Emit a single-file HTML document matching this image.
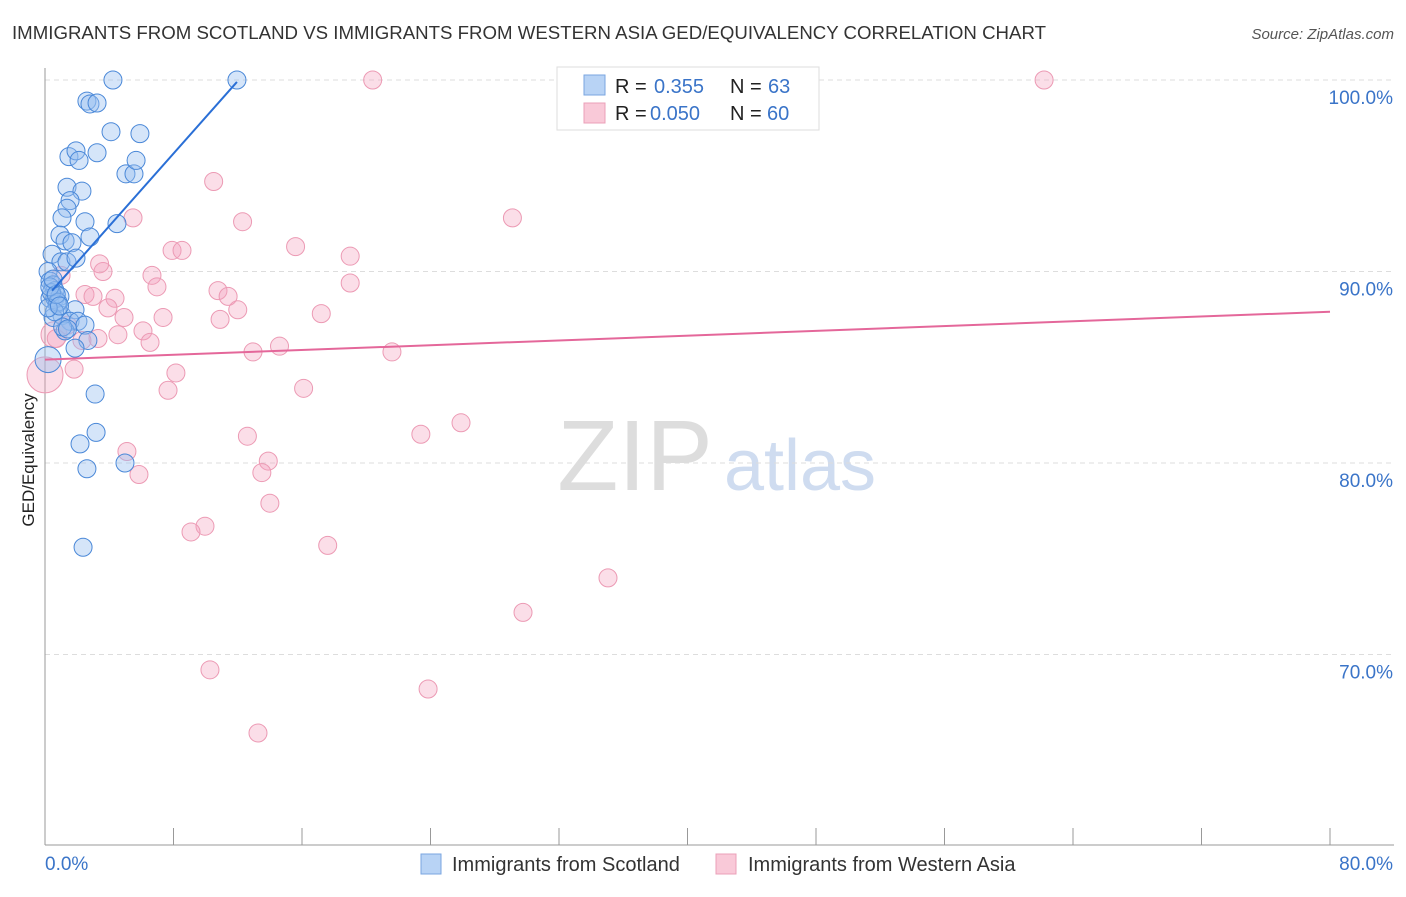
<!DOCTYPE html>
<html><head><meta charset="utf-8"><style>
body{margin:0;background:#fff;font-family:"Liberation Sans",sans-serif;}
svg text{font-family:"Liberation Sans",sans-serif;}
</style></head><body>
<svg id="chart" width="1406" height="892" xmlns="http://www.w3.org/2000/svg">
<text x="12" y="39" font-size="18" fill="#333" textLength="1034" lengthAdjust="spacingAndGlyphs">IMMIGRANTS FROM SCOTLAND VS IMMIGRANTS FROM WESTERN ASIA GED/EQUIVALENCY CORRELATION CHART</text>
<text x="1394" y="39" font-size="15" fill="#555" text-anchor="end" font-style="italic">Source: ZipAtlas.com</text>
<text x="34" y="460" font-size="17" fill="#222" text-anchor="middle" transform="rotate(-90 34 460)">GED/Equivalency</text>
<g><text x="635" y="490" font-size="100" fill="#ddd" font-family="Liberation Serif" text-anchor="middle">ZIP</text><text x="800" y="490" font-size="72" fill="#cfdcf0" text-anchor="middle">atlas</text></g>
<g id="grid"></g><g id="axes"></g><g id="pts"></g><g id="lines"></g>
<g>
<rect x="557" y="67" width="262" height="63" fill="#fff" stroke="#ddd"/>
<rect x="584" y="75" width="21" height="20" fill="#b8d3f5" stroke="#7aa6e0"/>
<rect x="584" y="103" width="21" height="20" fill="#f9c9d8" stroke="#eba0b8"/>
<text x="615" y="93" font-size="20" fill="#222">R =</text><text x="654" y="93" font-size="20" fill="#3a74c8">0.355</text>
<text x="730" y="93" font-size="20" fill="#222">N =</text><text x="768" y="93" font-size="20" fill="#3a74c8">63</text>
<text x="615" y="120" font-size="20" fill="#222">R =</text><text x="650" y="120" font-size="20" fill="#3a74c8">0.050</text>
<text x="730" y="120" font-size="20" fill="#222">N =</text><text x="767" y="120" font-size="20" fill="#3a74c8">60</text>
</g>
<g>
<rect x="421" y="854" width="20" height="20" fill="#b8d3f5" stroke="#7aa6e0"/>
<text x="452" y="871" font-size="20" fill="#333">Immigrants from Scotland</text>
<rect x="716" y="854" width="20" height="20" fill="#f9c9d8" stroke="#eba0b8"/>
<text x="748" y="871" font-size="20" fill="#333">Immigrants from Western Asia</text>
</g>
</svg>
<script>
const blueX=[4.23,11.95,2.61,2.8,3.24,4.11,5.91,1.49,1.93,2.12,3.24,5.04,5.54,5.67,1.37,2.3,1.56,1.37,1.06,2.49,4.48,0.93,1.25,2.8,1.68,0.44,0.99,1.37,1.93,0.19,0.31,0.5,0.62,0.31,0.62,0.93,0.75,1.06,1.87,0.5,1.56,2.05,2.49,1.25,2.67,1.87,0.19,3.12,3.18,2.18,2.61,4.98,2.37,0.4,0.8,0.3,1.1,0.6,0.2,1.4,0.7,0.9,0.5];
const blueY=[100,100,98.9,98.75,98.8,97.3,97.2,96,96.3,95.8,96.2,95.1,95.1,95.8,94.4,94.2,93.7,93.3,92.8,92.6,92.5,91.9,91.6,91.8,91.5,90.9,90.5,90.5,90.7,90,89.5,89.3,89,88.6,88.6,88.7,88.3,87.7,88,87.6,87.4,87.4,87.2,86.9,86.4,86,85.4,83.6,81.6,81,79.7,80,75.6,88.9,88.4,89.2,87.1,87.9,88.1,87,88.8,88.2,89.6];
const pinkX=[5.48,10.5,12.3,7.91,8.53,3.61,6.66,6.97,10.77,11.4,2.49,2.99,4.36,3.92,4.92,7.35,12,10.9,6.1,4.54,3.3,6.54,0.56,0.7,1.81,0,8.15,7.66,15.6,19,19,17.2,12.95,14.6,21.6,16.1,20.4,42.2,62.2,29.1,25.9,23.4,12.6,13.9,13.5,5.1,5.85,14,9.96,9.09,17.6,35.05,29.76,10.27,23.85,13.26,1.4,3.4,1.0,2.3];
const pinkY=[92.8,94.7,92.6,91.1,91.1,90,89.8,89.2,89,88.7,88.8,88.7,88.6,88.1,87.6,87.6,88,87.5,86.9,86.7,86.5,86.3,86.7,86.5,84.9,84.6,84.7,83.8,91.3,90.8,89.4,87.8,85.8,86.1,85.8,83.9,100,100,100,92.8,82.1,81.5,81.4,80.1,79.5,80.6,79.4,77.9,76.7,76.4,75.7,74,72.2,69.2,68.2,65.9,87.2,90.4,89.8,86.4];
const pinkR=[9,9,9,9,9,9,9,9,9,9,9,9,9,9,9,9,9,9,9,9,9,9,13,9,9,18,9,9,9,9,9,9,9,9,9,9,9,9,9,9,9,9,9,9,9,9,9,9,9,9,9,9,9,9,9,9,9,9,9,9];
const yTicks=[100,90,80,70];
const blueTrend=[[0.44,89.0],[11.95,99.9]];
const pinkTrend=[[0,85.4],[80,87.9]];
const NS="http://www.w3.org/2000/svg";
const sx=v=>45+v*1285/80, sy=v=>80+(100-v)*19.15;
function mk(t,a,p){const e=document.createElementNS(NS,t);for(const k in a)e.setAttribute(k,a[k]);p.appendChild(e);return e;}
const grid=document.getElementById('grid'),axes=document.getElementById('axes'),pts=document.getElementById('pts'),lines=document.getElementById('lines');
yTicks.forEach(t=>{
 const l=mk('line',{x1:45,x2:1394,y1:sy(t),y2:sy(t),stroke:'#ddd','stroke-dasharray':'5,4'},grid);
 
 
 const tx=mk('text',{x:1393,y:sy(t)+24,'font-size':19,fill:'#3a74c8','text-anchor':'end'},axes);
 tx.textContent=t.toFixed(1)+'%';
 
 
});
mk('line',{x1:45,x2:45,y1:68,y2:845,stroke:'#999'},axes);
mk('line',{x1:45,x2:1394,y1:845,y2:845,stroke:'#999'},axes);
for(let i=0;i<=10;i++){const x=45+i*128.5;mk('line',{x1:x,x2:x,y1:828,y2:845,stroke:'#999'},axes);}
const x0=mk('text',{x:45,y:870,'font-size':19,fill:'#3a74c8'},axes);x0.textContent='0.0%';


const x1=mk('text',{x:1393,y:870,'font-size':19,fill:'#3a74c8','text-anchor':'end'},axes);x1.textContent='80.0%';


pinkX.forEach((v,i)=>{const c=mk('circle',{cx:sx(v),cy:sy(pinkY[i]),r:pinkR[i],fill:'rgba(244,160,188,0.35)',stroke:'#ec9ab4','stroke-width':1},pts);
 
 });
blueX.forEach((v,i)=>{const c=mk('circle',{cx:sx(v),cy:sy(blueY[i]),r:i==46?13:9,fill:'rgba(150,190,240,0.4)',stroke:'#4a88d8','stroke-width':1},pts);
 
 });
const bl=mk('line',{x1:sx(blueTrend[0][0]),y1:sy(blueTrend[0][1]),x2:sx(blueTrend[1][0]),y2:sy(blueTrend[1][1]),stroke:'#2a6fd6','stroke-width':2},lines);


const pl=mk('line',{x1:sx(pinkTrend[0][0]),y1:sy(pinkTrend[0][1]),x2:sx(pinkTrend[1][0]),y2:sy(pinkTrend[1][1]),stroke:'#e4679a','stroke-width':2},lines);


</script>
</body></html>
